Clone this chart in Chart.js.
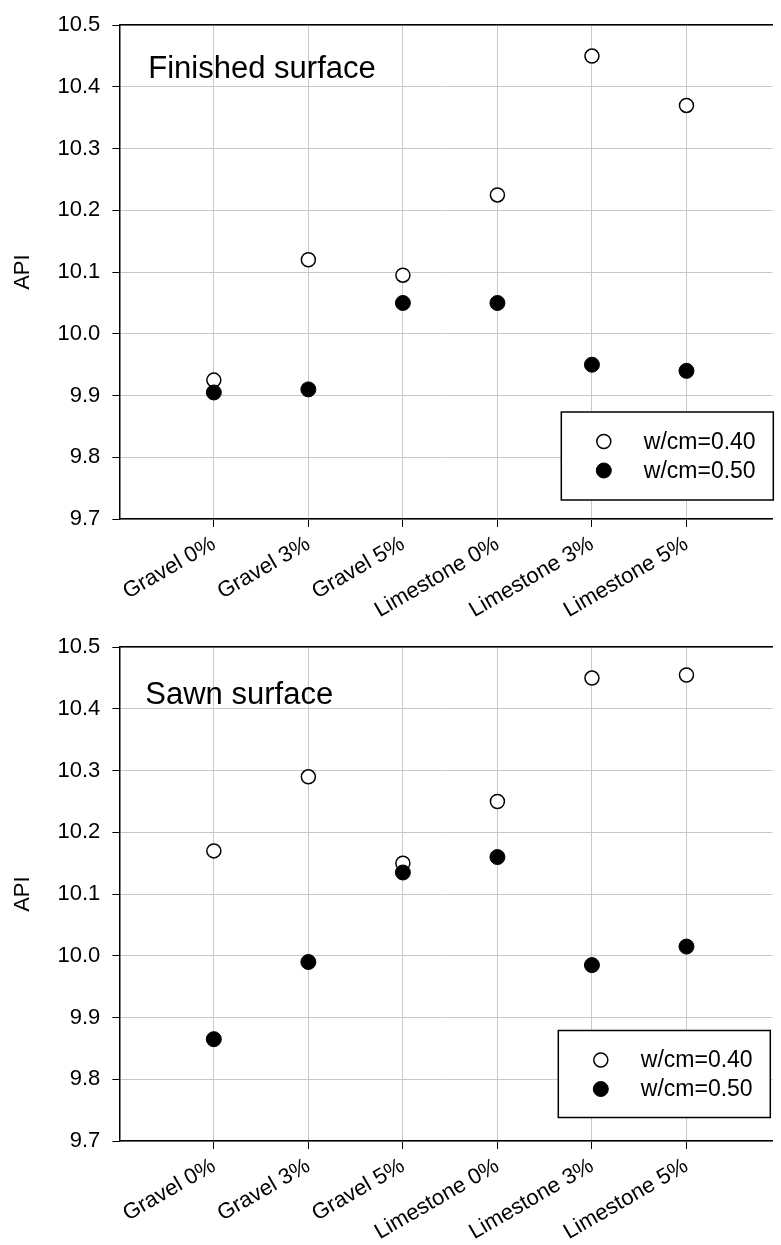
<!DOCTYPE html>
<html>
<head>
<meta charset="utf-8">
<title>API by aggregate</title>
<script src="https://cdn.jsdelivr.net/npm/chart.js@4.4.1/dist/chart.umd.min.js"></script>
<style>
  html, body { margin: 0; padding: 0; background: #fff; overflow: hidden; }
  canvas { display: block; }
</style>
</head>
<body>
<canvas id="finished" width="781" height="622"></canvas>
<canvas id="sawn" width="781" height="623"></canvas>
<script>
// aggregate type / replacement level on the x axis
var categories = ["Gravel 0%", "Gravel 3%", "Gravel 5%", "Limestone 0%", "Limestone 3%", "Limestone 5%"];
var seriesNames = ["w/cm=0.40", "w/cm=0.50"];

// API values, finished surface
var finished040 = [9.925, 10.12, 10.095, 10.225, 10.45, 10.37];
var finished050 = [9.905, 9.91, 10.05, 10.05, 9.95, 9.94];

// API values, sawn surface
var sawn040 = [10.17, 10.29, 10.15, 10.25, 10.45, 10.455];
var sawn050 = [9.865, 9.99, 10.135, 10.16, 9.985, 10.015];

var yTicks = [9.7, 9.8, 9.9, 10.0, 10.1, 10.2, 10.3, 10.4, 10.5];

Chart.defaults.font.family = "'Liberation Sans', Arial, sans-serif";
Chart.defaults.color = '#000';

var GRID = '#c8c8c8';

function toPoints(vals) {
  return vals.map(function (v, i) { return { x: i + 1, y: v }; });
}

// panel caption written inside the plot
var panelLabel = {
  id: 'panelLabel',
  afterDraw: function (chart, args, o) {
    var ctx = chart.ctx, a = chart.chartArea;
    ctx.save();
    ctx.font = '31px ' + Chart.defaults.font.family;
    ctx.fillStyle = '#000';
    ctx.textBaseline = 'alphabetic';
    ctx.fillText(o.text, a.left + o.dx, a.top + o.dy);
    ctx.restore();
  }
};

// legend in a framed box inside the plot area
var boxLegend = {
  id: 'boxLegend',
  afterDraw: function (chart, args, o) {
    var ctx = chart.ctx, a = chart.chartArea;
    var x0 = a.left + o.right - o.width, y0 = a.bottom - o.bottom - o.height;
    ctx.save();
    ctx.fillStyle = '#fff';
    ctx.fillRect(x0, y0, o.width, o.height);
    ctx.strokeStyle = '#000';
    ctx.lineWidth = 1.5;
    ctx.strokeRect(x0, y0, o.width, o.height);
    ctx.font = '23px ' + Chart.defaults.font.family;
    ctx.textBaseline = 'middle';
    chart.data.datasets.forEach(function (ds, i) {
      var cy = y0 + 29.5 + i * 29;
      ctx.beginPath();
      ctx.arc(x0 + 42.5, cy, ds.pointRadius, 0, Math.PI * 2);
      ctx.fillStyle = ds.backgroundColor;
      ctx.fill();
      ctx.lineWidth = ds.borderWidth;
      ctx.strokeStyle = ds.borderColor;
      ctx.stroke();
      ctx.fillStyle = '#000';
      ctx.fillText(ds.label, x0 + 82.5, cy + 1);
    });
    ctx.restore();
  }
};

function makeChart(id, open, filled, label, legendPos) {
  var canvas = document.getElementById(id);
  var h = canvas.height;
  return new Chart(canvas, {
    type: 'scatter',
    data: {
      datasets: [
        {
          label: seriesNames[0],
          data: toPoints(open),
          pointRadius: 7,
          backgroundColor: '#fff',
          borderColor: '#000',
          borderWidth: 1.5,
          order: 1
        },
        {
          label: seriesNames[1],
          data: toPoints(filled),
          pointRadius: 7.5,
          backgroundColor: '#000',
          borderColor: '#000',
          borderWidth: 1,
          order: 0
        }
      ]
    },
    options: {
      responsive: false,
      animation: false,
      layout: { padding: 0 },
      plugins: {
        legend: { display: false },
        tooltip: { enabled: false },
        panelLabel: label,
        boxLegend: legendPos
      },
      scales: {
        x: {
          type: 'linear',
          position: 'bottom',
          min: 0,
          max: 6.91,
          afterBuildTicks: function (s) {
            s.ticks = categories.map(function (c, i) { return { value: i + 1 }; });
          },
          afterFit: function (s) { s.height = h - 519; },
          ticks: {
            autoSkip: false,
            maxRotation: 30,
            minRotation: 30,
            padding: 4,
            font: { size: 22 },
            callback: function (v) { return categories[v - 1]; }
          },
          grid: { color: GRID, lineWidth: 1, tickColor: '#000', tickLength: 8 },
          border: { color: '#000', width: 1.5 }
        },
        xTop: {
          type: 'linear',
          position: 'top',
          ticks: { display: false },
          grid: { display: false },
          border: { display: true, color: '#000', width: 1.5 },
          afterFit: function (s) { s.height = 17.5; }
        },
        y: {
          min: 9.7,
          max: 10.5,
          afterBuildTicks: function (s) {
            s.ticks = yTicks.map(function (v) { return { value: v }; });
          },
          afterFit: function (s) { s.width = 119.3; },
          ticks: {
            padding: 12,
            font: { size: 22 },
            callback: function (v) { return v.toFixed(1); }
          },
          grid: { color: GRID, lineWidth: 1, tickColor: '#000', tickLength: 7 },
          border: { color: '#000', width: 1.5 },
          title: { display: true, text: 'API', font: { size: 22 }, padding: { top: 10, bottom: 0 } }
        }
      }
    },
    plugins: [panelLabel, boxLegend]
  });
}

makeChart('finished', finished040, finished050,
  { text: 'Finished surface', dx: 29, dy: 52.5 },
  { right: 654, bottom: 19, width: 212, height: 88 });

makeChart('sawn', sawn040, sawn050,
  { text: 'Sawn surface', dx: 26, dy: 56.5 },
  { right: 651, bottom: 23.5, width: 212, height: 87 });
</script>
</body>
</html>
